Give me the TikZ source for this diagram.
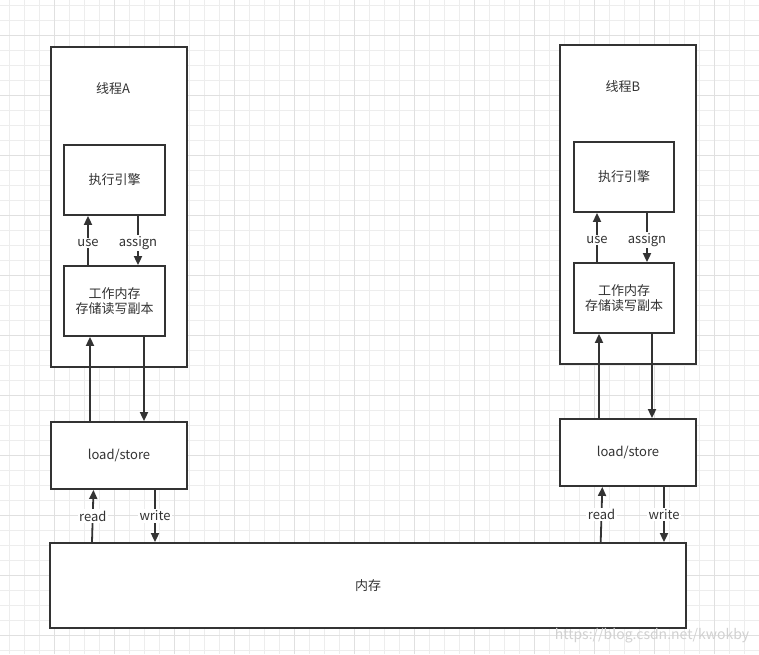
\documentclass[tikz,border=0pt]{standalone}
\usepackage{fontspec}
\setmainfont{Noto Sans CJK SC}
\usetikzlibrary{arrows.meta,calc}
\definecolor{ink}{HTML}{333333}
\definecolor{gridminor}{HTML}{EDEDED}
\definecolor{gridmajor}{HTML}{E0E0E0}
\tikzset{
  box/.style={draw=ink, line width=1.8pt, fill=white, inner sep=0pt, text=ink, font=\fontsize{13}{15.5}\selectfont, align=center},
  arr/.style={draw=ink, line width=1.8pt, -{Triangle[length=9pt,width=8pt]}},
  lbl/.style={fill=white, text=ink, inner sep=1.5pt, font=\fontsize{13}{15.5}\selectfont},
  title/.style={text=ink, font=\fontsize{13}{15.5}\selectfont},
}
\begin{document}
\begin{tikzpicture}[x=1pt,y=-1pt]
\useasboundingbox (0,0) rectangle (759,654);
\fill[white] (0,0) rectangle (759,654);
% grid
\foreach \gx in {9.3,24.3,...,759} {\draw[gridminor, line width=0.8pt] (\gx,0) -- (\gx,654);}
\foreach \gy in {5,20,...,654} {\draw[gridminor, line width=0.8pt] (0,\gy) -- (759,\gy);}
\foreach \gx in {54.3,114.3,...,759} {\draw[gridmajor, line width=0.8pt] (\gx,0) -- (\gx,654);}
\foreach \gy in {35,95,...,654} {\draw[gridmajor, line width=0.8pt] (0,\gy) -- (759,\gy);}

% thread A
\node[box, minimum width=136pt, minimum height=320pt] (tA) at (119,207) {};
\node[title] (tAl) at (113,89) {线程A};
\node[box, minimum width=101pt, minimum height=70pt] (eA) at (114.5,180) {执行引擎};
\node[box, minimum width=101pt, minimum height=70pt] (wA) at (114.5,301) {工作内存\\存储读写副本};
\node[box, minimum width=136pt, minimum height=67pt] (lsA) at (119,455.5) {load/store};

% thread B
\node[box, minimum width=136pt, minimum height=319pt] (tB) at (628,204.5) {};
\node[title] (tBl) at (623,87) {线程B};
\node[box, minimum width=100pt, minimum height=70pt] (eB) at (624,177) {执行引擎};
\node[box, minimum width=100pt, minimum height=70pt] (wB) at (624,298) {工作内存\\存储读写副本};
\node[box, minimum width=136pt, minimum height=67pt] (lsB) at (628,452.5) {load/store};

% main memory
\node[box, minimum width=636pt, minimum height=85pt] (mem) at (368,585.5) {内存};

% x positions of connectors
\coordinate (useA) at (88,0);
\coordinate (asgA) at (138,0);
\coordinate (upA) at (90,0);
\coordinate (dnA) at (144,0);
\coordinate (wrA) at (155,0);
\coordinate (useB) at (597,0);
\coordinate (asgB) at (647,0);
\coordinate (upB) at (599,0);
\coordinate (dnB) at (652,0);
\coordinate (wrB) at (664,0);

% A connectors
\draw[arr] (wA.north -| useA) -- node[lbl, pos=0.45] {use} (eA.south -| useA);
\draw[arr] (eA.south -| asgA) -- node[lbl, pos=0.55] {assign} (wA.north -| asgA);
\draw[arr] (lsA.north -| upA) -- (wA.south -| upA);
\draw[arr] (wA.south -| dnA) -- (lsA.north -| dnA);
\draw[arr] ($(mem.north -| upA)+(2,0)$) -- node[lbl, pos=0.5] {read} ($(lsA.south -| upA)+(3.5,0)$);
\draw[arr] (lsA.south -| wrA) -- node[lbl, pos=0.5] {write} (mem.north -| wrA);

% B connectors
\draw[arr] (wB.north -| useB) -- node[lbl, pos=0.45] {use} (eB.south -| useB);
\draw[arr] (eB.south -| asgB) -- node[lbl, pos=0.55] {assign} (wB.north -| asgB);
\draw[arr] (lsB.north -| upB) -- (wB.south -| upB);
\draw[arr] (wB.south -| dnB) -- (lsB.north -| dnB);
\draw[arr] ($(mem.north -| upB)+(1.7,0)$) -- node[lbl, pos=0.5] {read} ($(lsB.south -| upB)+(3.3,0)$);
\draw[arr] (lsB.south -| wrB) -- node[lbl, pos=0.5] {write} (mem.north -| wrB);

% watermark
\node[text=black!18, font=\fontsize{14}{16}\selectfont, anchor=center] (wm) at (652,636) {https://blog.csdn.net/kwokby};
\end{tikzpicture}
\end{document}
